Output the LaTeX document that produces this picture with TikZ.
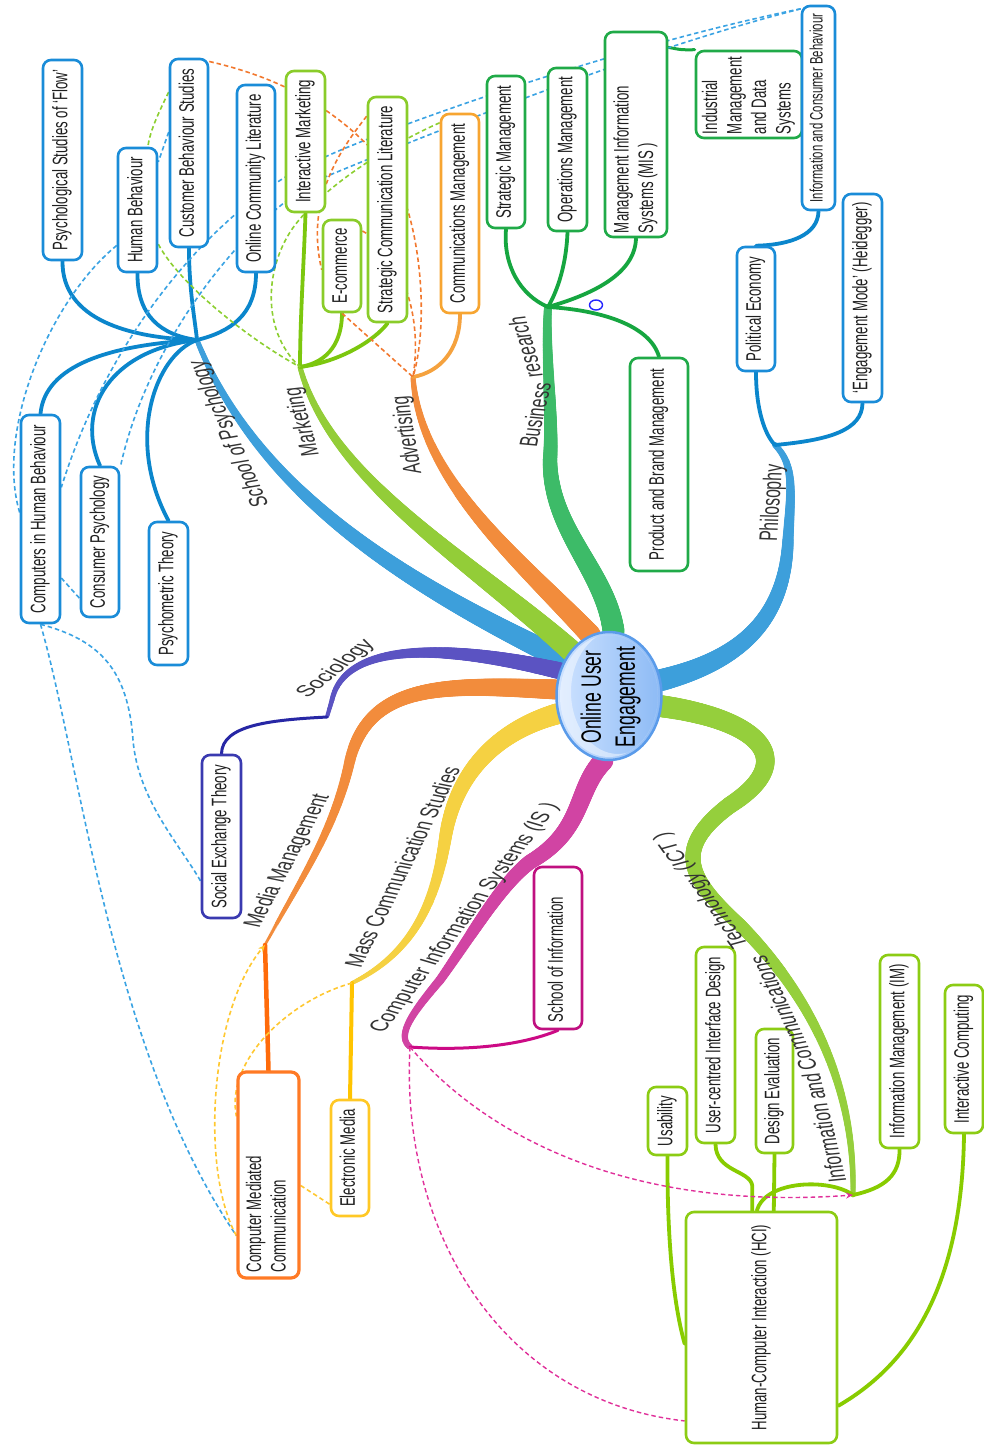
\documentclass[tikz,border=0pt]{standalone}
\usepackage{fontspec}
\usepackage{graphicx}
\usetikzlibrary{decorations.markings,calc,arrows.meta,shapes.geometric}
\newfontfamily\nf[FakeStretch=0.63]{Liberation Sans}
\newfontfamily\lf{Liberation Sans}
\newcommand\vt[1]{\rotatebox{90}{\begin{tabular}{@{}l@{}}#1\end{tabular}}}
\newcommand\vtb[2]{\rotatebox{90}{\makebox[#1][l]{\begin{tabular}{@{}l@{}}#2\end{tabular}}}}
\definecolor{psyBand}{HTML}{3D9FDB}\definecolor{psyLine}{HTML}{0B86CC}\definecolor{psyBox}{HTML}{1A8CD8}
\definecolor{mkBand}{HTML}{93CD38}\definecolor{mkLine}{HTML}{7CC70E}\definecolor{mkBox}{HTML}{8ACC2A}
\definecolor{adBand}{HTML}{F28C3C}\definecolor{adLine}{HTML}{F5A23E}\definecolor{adBox}{HTML}{F7A531}
\definecolor{brBand}{HTML}{3DBB68}\definecolor{brLine}{HTML}{16A640}\definecolor{brBox}{HTML}{20AA48}
\definecolor{soBand}{HTML}{5B53C2}\definecolor{soLine}{HTML}{2727A5}\definecolor{soBox}{HTML}{3A3AB0}
\definecolor{mmBand}{HTML}{F28C3C}\definecolor{mmLine}{HTML}{FF6B0A}\definecolor{mmBox}{HTML}{FF7A25}
\definecolor{mcBand}{HTML}{F5D142}\definecolor{mcLine}{HTML}{FFC400}\definecolor{mcBox}{HTML}{FFC825}
\definecolor{isBand}{HTML}{D144A3}\definecolor{isLine}{HTML}{CC0A85}\definecolor{isBox}{HTML}{C01080}
\definecolor{ictBand}{HTML}{95CF3C}\definecolor{ictLine}{HTML}{88CC00}\definecolor{ictBox}{HTML}{8CCC14}
\definecolor{dBlue}{HTML}{3AA3E3}\definecolor{dOrange}{HTML}{F2782E}\definecolor{dGreen}{HTML}{8CCF30}
\definecolor{dYellow}{HTML}{FFC830}\definecolor{dMag}{HTML}{E0309A}
\definecolor{ellL}{HTML}{CFE3FF}\definecolor{ellR}{HTML}{8CBAF5}\definecolor{ellB}{HTML}{5A9BEA}
\pgfdeclarelayer{bands}
\pgfdeclarelayer{links}
\pgfsetlayers{bands,links,main}
\tikzset{
 box/.style={draw, rounded corners=8pt, fill=white, line width=2.6pt, inner sep=0pt, text=black!88},
 child/.style={line width=3.8pt, line cap=round},
 dsh/.style={line width=1.6pt, dash pattern=on 4.5pt off 3pt},
 blab/.style={font={\lf\fontsize{25.5}{30}\selectfont}, inner sep=0pt, text=black!80, transform shape},
 taper/.style n args={3}{decorate, decoration={markings, mark=between positions 0 and 1 step 1.2pt with {\pgfmathsetmacro\tr{#2-(#2-#3)*\pgfkeysvalueof{/pgf/decoration/mark info/distance from start}/\pgfdecoratedpathlength}\fill[#1] (0,0) circle[radius=\tr pt];}}},
}
\begin{document}
\begin{tikzpicture}[x=1pt,y=-1pt,font={\nf\fontsize{21}{24.5}\selectfont}]
\useasboundingbox (0,0) rectangle (984,1448);
% ---- boxes ----
\node[box, draw=psyBox, minimum width=39pt, minimum height=200pt] (flow) at (62.5,160) {\vt{Psychological Studies of ‘Flow’}};
\node[box, draw=psyBox, minimum width=39pt, minimum height=124pt] (hb) at (137.5,210) {\vt{Human Behaviour}};
\node[box, draw=psyBox, minimum width=38pt, minimum height=188pt] (cbs) at (189,153) {\vt{Customer Behaviour Studies}};
\node[box, draw=psyBox, minimum width=38pt, minimum height=187pt] (ocl) at (256,178.5) {\vt{Online Community Literature}};
\node[box, draw=psyBox, minimum width=39pt, minimum height=208pt] (cihb) at (40.5,519) {\vt{Computers in Human Behaviour}};
\node[box, draw=psyBox, minimum width=38pt, minimum height=150pt] (cpsy) at (100,542) {\vt{Consumer Psychology}};
\node[box, draw=psyBox, minimum width=39pt, minimum height=143pt] (pmt) at (168.5,593.5) {\vt{Psychometric Theory}};
\node[box, draw=mkBox, minimum width=39pt, minimum height=141pt] (im) at (305.5,141.5) {\vt{Interactive Marketing}};
\node[box, draw=mkBox, minimum width=38pt, minimum height=92pt] (ecom) at (342,266) {\vt{E-commerce}};
\node[box, draw=mkBox, minimum width=39pt, minimum height=225pt] (scl) at (387.5,209.5) {\vt{Strategic Communication Literature}};
\node[box, draw=adBox, minimum width=38pt, minimum height=199pt] (cm) at (460,213.5) {\vt{Communications Management}};
\node[box, draw=brBox, minimum width=38pt, minimum height=152pt] (sm) at (506,152) {\vt{Strategic Management}};
\node[box, draw=brBox, minimum width=39pt, minimum height=163pt] (om) at (567.5,149.5) {\vt{Operations Management}};
\node[box, draw=brBox, minimum width=62pt, minimum height=205pt] (mis) at (636,134.5) {\vtb{197pt}{Management Information\\Systems (MIS )}};
\node[box, draw=brBox, minimum width=106pt, minimum height=87pt] (imds) at (749,94.5) {\vtb{79pt}{Industrial\\Management\\and Data\\Systems}};
\node[box, draw=brBox, minimum width=58pt, minimum height=213pt] (pbm) at (659,464.5) {\vt{Product and Brand Management}};
\node[box, draw=psyBox, minimum width=33pt, minimum height=204pt, font={\nf\fontsize{18}{21}\selectfont}] (icb) at (818.5,108) {\vt{Information and Consumer Behaviour}};
\node[box, draw=psyBox, minimum width=38pt, minimum height=124pt] (pe) at (756,309) {\vt{Political Economy}};
\node[box, draw=psyBox, minimum width=39pt, minimum height=208pt] (emh) at (862.5,298) {\vt{‘Engagement Mode’ (Heidegger)}};
\node[box, draw=soBox, minimum width=39pt, minimum height=163pt] (set) at (221.5,836.5) {\vt{Social Exchange Theory}};
\node[box, draw=mmBox, line width=3.2pt, minimum width=61pt, minimum height=206pt] (cmc) at (268.5,1175) {\vtb{194pt}{Computer Mediated\\Communication}};
\node[box, draw=mcBox, minimum width=38pt, minimum height=116pt] (elm) at (350,1158) {\vt{Electronic Media}};
\node[box, draw=isBox, minimum width=48pt, minimum height=162pt] (soi) at (558,948) {\vtb{148pt}{School of Information}};
\node[box, draw=ictBox, minimum width=39pt, minimum height=68pt] (usab) at (667.5,1121) {\vt{Usability}};
\node[box, draw=ictBox, minimum width=39pt, minimum height=196pt] (ucid) at (715.5,1045) {\vt{User-centred Interface Design}};
\node[box, draw=ictBox, minimum width=37pt, minimum height=124pt] (de) at (774.5,1091) {\vt{Design Evaluation}};
\node[box, draw=ictBox, minimum width=39pt, minimum height=193pt] (imm) at (899.5,1051.5) {\vt{Information Management (IM)}};
\node[box, draw=ictBox, minimum width=38pt, minimum height=148pt] (ic) at (964,1059) {\vt{Interactive Computing}};
\node[box, draw=ictBox, minimum width=151pt, minimum height=231pt] (hci) at (761.5,1327.5) {\vt{Human-Computer Interaction (HCI)}};
% ---- centre ----
\node[ellipse, minimum width=105pt, minimum height=128pt, inner sep=0pt, draw=ellB, line width=2.5pt, left color=ellL, right color=ellR] (cen) at (609,696) {};
\begin{scope}
\clip (609,696) ellipse [x radius=49pt, y radius=61pt];
\fill[white, opacity=0.45, even odd rule] (609,696) ellipse [x radius=49pt, y radius=61pt] (618,692) ellipse [x radius=47pt, y radius=62pt];
\end{scope}
\node[inner sep=0pt, font={\nf\fontsize{28}{34}\selectfont}] (oue) at (611,697) {\rotatebox{90}{\begin{tabular}{@{}c@{}}Online User\\Engagement\end{tabular}}};
% ---- hubs ----
\coordinate (hPsy) at (197,340);
\coordinate (hMk) at (300,367);
\coordinate (hAd) at (413,377);
\coordinate (hBr) at (548,307);
\coordinate (hPh) at (775,445);
\coordinate (hSo) at (327,717);
\coordinate (hMM) at (265,945);
\coordinate (hMC) at (352,983);
\coordinate (hIS) at (410,1047);
\coordinate (hICT) at (853,1195);
% ---- side points ----
\coordinate (hbW) at ($(hb.north west)!0.78!(hb.south west)$);
\coordinate (hbE1) at ($(hb.north east)!0.12!(hb.south east)$);
\coordinate (hbE2) at ($(hb.north east)!0.77!(hb.south east)$);
\coordinate (hbN) at ($(hb.north west)!0.75!(hb.north east)$);
\coordinate (cbsW1) at ($(cbs.north west)!0.18!(cbs.south west)$);
\coordinate (cbsW2) at ($(cbs.north west)!0.39!(cbs.south west)$);
\coordinate (cbsNE) at ($(cbs.north east)!0.02!(cbs.south east)$);
\coordinate (cihbW) at ($(cihb.north west)!0.47!(cihb.south west)$);
\coordinate (cihbE1) at ($(cihb.north east)!0.35!(cihb.south east)$);
\coordinate (cihbE2) at ($(cihb.north east)!0.78!(cihb.south east)$);
\coordinate (cpsyNE) at ($(cpsy.north east)!0.01!(cpsy.south east)$);
\coordinate (cpsyW) at ($(cpsy.north west)!0.87!(cpsy.south west)$);
\coordinate (icbNW) at ($(icb.north west)!0.02!(icb.south west)$);
\coordinate (sclW) at ($(scl.north west)!0.09!(scl.south west)$);
\coordinate (ecomW) at ($(ecom.north west)!0.54!(ecom.south west)$);
\coordinate (ecomE) at ($(ecom.north east)!0.13!(ecom.south east)$);
\coordinate (cmW) at ($(cm.north west)!0.05!(cm.south west)$);
\coordinate (misE) at ($(mis.north east)!0.08!(mis.south east)$);
\coordinate (setW) at ($(set.north west)!0.77!(set.south west)$);
\coordinate (cmcW1) at ($(cmc.north west)!0.22!(cmc.south west)$);
\coordinate (cmcW2) at ($(cmc.north west)!0.79!(cmc.south west)$);
\coordinate (cmcE) at ($(cmc.north east)!0.55!(cmc.south east)$);
\coordinate (elmW) at ($(elm.north west)!0.89!(elm.south west)$);
\coordinate (hciW1) at ($(hci.north west)!0.57!(hci.south west)$);
\coordinate (hciW2) at ($(hci.north west)!0.9!(hci.south west)$);
\coordinate (hciE) at ($(hci.north east)!0.835!(hci.south east)$);
\coordinate (hciN1) at ($(hci.north west)!0.44!(hci.north east)$);
\coordinate (hciN2) at ($(hci.north west)!0.47!(hci.north east)$);
\coordinate (hciN3) at ($(hci.north west)!0.58!(hci.north east)$);
% ---- branches ----
\begin{pgfonlayer}{bands}
\fill[white] (0,0) rectangle (984,1448);
\path[taper={psyBand}{11}{2.5}] (cen.141) .. controls (420,590) and (260,500) .. (hPsy);
\path[taper={mkBand}{11}{2.5}] (cen.130) .. controls (470,560) and (330,480) .. (hMk);
\path[taper={adBand}{10.5}{2.5}] (cen.107) .. controls (520,560) and (420,480) .. (hAd);
\path[taper={brBand}{11}{4}] (cen.86) .. controls (605,570) and (550,530) .. (550,460) .. controls (553,420) and (545,350) .. (hBr);
\path[taper={psyBand}{11}{3}] (cen.17) .. controls (740,660) and (785,620) .. (788,540) .. controls (791,490) and (795,465) .. (hPh);
\path[taper={soBand}{8.5}{2}] (cen.153) .. controls (450,645) and (345,640) .. (332,700) -- (hSo);
\path[taper={mmBand}{10}{1.5}] (cen.173) .. controls (450,685) and (370,680) .. (350,760) .. controls (335,830) and (300,880) .. (hMM);
\path[taper={mcBand}{10.5}{2}] (cen.199) .. controls (500,730) and (455,770) .. (445,840) .. controls (437,890) and (420,950) .. (hMC);
\path[taper={isBand}{10}{3}] (cen.265) .. controls (575,790) and (585,830) .. (530,862) .. controls (500,885) and (472,935) .. (440,980) .. controls (415,1010) and (395,1035) .. (hIS);
\path[taper={ictBand}{11}{2.5}] (cen.349) .. controls (760,720) and (800,760) .. (730,805) .. controls (670,850) and (690,880) .. (740,925) .. controls (815,1000) and (855,1090) .. (hICT);
\end{pgfonlayer}
% ---- child connectors and cross links ----
\begin{pgfonlayer}{links}
\draw[child, psyLine] (flow.south) .. controls (62,320) and (130,338) .. (hPsy);
\draw[child, psyLine] (hb.south) .. controls (137,315) and (160,335) .. (hPsy);
\draw[child, psyLine] (cbs.south) .. controls (189,290) and (195,320) .. (hPsy);
\draw[child, psyLine] (ocl.south) .. controls (256,315) and (230,332) .. (hPsy);
\draw[child, psyLine] (hPsy) .. controls (110,345) and (45,365) .. (cihb.north);
\draw[child, psyLine] (hPsy) .. controls (110,350) and (75,410) .. (cpsy.north);
\draw[child, psyLine] (hPsy) .. controls (155,355) and (125,440) .. (pmt.north);
\draw[child, mkLine] (im.south) .. controls (304,260) and (300,320) .. (hMk);
\draw[child, mkLine] (hMk) .. controls (330,362) and (342,340) .. (ecom.south);
\draw[child, mkLine] (hMk) .. controls (340,362) and (375,340) .. (scl.south);
\draw[child, adLine] (hAd) .. controls (440,372) and (460,350) .. (cm.south);
\draw[child, brLine] (sm.south) .. controls (503,265) and (520,295) .. (hBr);
\draw[child, brLine] (om.south) .. controls (566,270) and (555,295) .. (hBr);
\draw[child, brLine] (mis.south) .. controls (635,275) and (590,295) .. (hBr);
\draw[child, brLine] (hBr) .. controls (600,310) and (650,325) .. (pbm.north);
\draw[child, brLine, line width=3pt] (misE) .. controls (682,50) .. (imds.north west);
\draw[child, psyLine] (pe.south) .. controls (756,410) and (765,435) .. (hPh);
\draw[child, psyLine] (hPh) .. controls (830,440) and (862,430) .. (emh.south);
\draw[child, psyLine] (pe.north) .. controls (790,245) and (818,235) .. (icb.south);
\draw[child, soLine, line width=3pt] (hSo) .. controls (270,720) and (222,725) .. (set.north);
\draw[child, mmLine, line width=4.5pt] (hMM) -- (cmc.north);
\draw[child, mcLine, line width=4pt] (hMC) -- (elm.north);
\draw[child, isLine, line width=3pt] (hIS) .. controls (480,1052) and (530,1042) .. (soi.south);
\draw[child, ictLine] (hICT) .. controls (885,1188) and (900,1175) .. (imm.south);
\draw[child, ictLine] (hciN2) .. controls (765,1180) and (830,1178) .. (hICT);
\draw[child, ictLine] (usab.south) .. controls (667,1250) and (675,1310) .. (hciW1);
\draw[child, ictLine] (ucid.south) .. controls (716,1172) and (750,1170) .. ($(hciN1)+(0,-25)$) -- (hciN1);
\draw[child, ictLine] (de.south) -- (hciN3);
\draw[child, ictLine] (ic.south) .. controls (962,1300) and (900,1370) .. (hciE);
% dashed relationships
\draw[dsh, dBlue] (hbW) .. controls (50,300) and (-5,430) .. (cihbW);
\draw[dsh, dBlue] (cbsW2) -- (hbE1);
\draw[dsh, dGreen] (cbsW1) .. controls (160,110) and (150,130) .. (hbN);
\draw[dsh, dGreen] (hbE2) .. controls (180,285) and (250,340) .. (hMk);
\draw[dsh, dBlue] (icbNW) .. controls (620,45) and (390,127) .. (325,157) .. controls (250,185) and (120,300) .. (cihbE1);
\draw[dsh, dBlue] (icbNW) .. controls (620,55) and (390,150) .. (325,177) .. controls (260,205) and (150,330) .. (cpsyNE);
\draw[dsh, dBlue] (cihbE2) -- (cpsyW);
\draw[dsh, dBlue] (cihb.south) .. controls (100,640) and (128,670) .. (133,740) .. controls (138,800) and (180,845) .. (setW);
\draw[dsh, dBlue] (cihb.south) .. controls (80,760) and (110,1050) .. (cmcW2);
\draw[dsh, dOrange] (cbsNE) .. controls (290,80) and (345,115) .. (390,170) .. controls (420,215) and (430,320) .. (hAd);
\draw[dsh, dOrange] (sclW) .. controls (340,150) and (305,200) .. (ecomW);
\draw[dsh, dOrange] (ecomE) .. controls (390,245) and (425,300) .. (hAd);
\draw[dsh, dOrange] (ecom.south) -- (hAd);
\draw[dsh, dGreen] (cmW) .. controls (400,140) and (330,180) .. (295,225) .. controls (265,265) and (260,330) .. (hMk);
\draw[dsh, dYellow, -{Stealth[length=7pt,width=6pt]}] (cmcW2) .. controls (200,1170) and (210,1010) .. (hMM);
\draw[dsh, dYellow] (hMC) .. controls (290,1000) and (225,1060) .. (cmcW1);
\draw[dsh, dYellow] (cmcE) -- (elmW);
\draw[dsh, dMag, line width=1.4pt, -{Stealth[length=7pt,width=6pt]}] (hIS) .. controls (480,1130) and (620,1212) .. (hICT);
\draw[dsh, dMag, line width=1.4pt] (hIS) .. controls (400,1230) and (500,1400) .. (hciW2);
\end{pgfonlayer}
\draw[blue!85!white, line width=1.4pt] (596,305) ellipse [x radius=6.5pt, y radius=5pt];
% ---- branch labels ----
\begin{scope}[shift={(230,434)}, yscale=0.62, rotate=105.5]\node[blab] (lPsy) at (0,0) {School of Psychology};\end{scope}
\begin{scope}[shift={(303,422)}, yscale=0.62, rotate=100]\node[blab] (lMk) at (0,0) {Marketing};\end{scope}
\begin{scope}[shift={(408,435)}, yscale=0.62, rotate=96.2]\node[blab] (lAd) at (0,0) {Advertising};\end{scope}
\begin{scope}[shift={(535,415)}, yscale=0.62, rotate=81.8]\node[blab] (lBr1) at (0,0) {Business};\end{scope}
\begin{scope}[shift={(525,347)}, yscale=0.62, rotate=100.5]\node[blab] (lBr2) at (0,0) {research};\end{scope}
\begin{scope}[shift={(773,503)}, yscale=0.62, rotate=87.5]\node[blab] (lPh) at (0,0) {Philosophy};\end{scope}
\begin{scope}[shift={(336,669)}, yscale=0.62, rotate=52.6]\node[blab] (lSo) at (0,0) {Sociology};\end{scope}
\begin{scope}[shift={(288,861)}, yscale=0.62, rotate=71.8]\node[blab] (lMM) at (0,0) {Media Management};\end{scope}
\begin{scope}[shift={(402,867)}, yscale=0.62, rotate=72.8]\node[blab] (lMC) at (0,0) {Mass Communication Studies};\end{scope}
\begin{scope}[shift={(465,918)}, yscale=0.62, rotate=64.5]\node[blab] (lIS) at (0,0) {Computer Information Systems (IS )};\end{scope}
\begin{scope}[shift={(824,1128)}, yscale=0.62, rotate=98.8]\node[blab] (lICT1) at (0,0) {Information and};\end{scope}
\begin{scope}[shift={(783,1013)}, yscale=0.62, rotate=106.1]\node[blab] (lICT2) at (0,0) {Communications};\end{scope}
\begin{scope}[shift={(702,890)}, yscale=0.62, rotate=113.9]\node[blab] (lICT3) at (0,0) {Technology (ICT )};\end{scope}
\end{tikzpicture}
\end{document}
